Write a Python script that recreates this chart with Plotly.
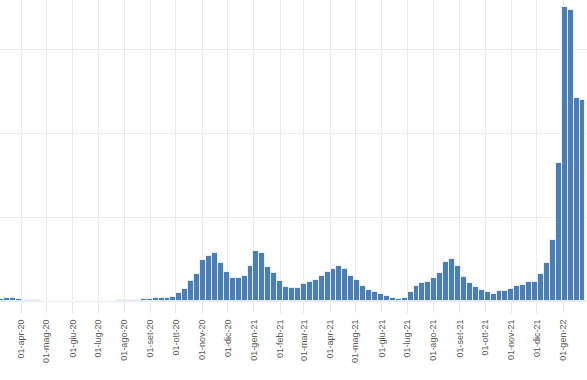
import pandas as pd
import plotly.graph_objects as go

# Weekly bars (week centres, Mondays) from 9 Mar 2020 to 24 Jan 2022
weeks = pd.date_range("2020-03-09", periods=99, freq="7D")

values = [
    1.0, 1.6, 1.6, 1.2, 0.8, 0.6, 0.4, 0.3, 0.25, 0.2,
    0.2, 0.2, 0.2, 0.2, 0.2, 0.2, 0.2, 0.2, 0.25, 0.3,
    0.35, 0.5, 0.6, 0.8, 0.95, 1.2, 1.6, 1.6, 1.7, 2.6,
    4.6, 7.1, 11.9, 16.1, 24.4, 26.8, 28.4, 22.4, 17.3, 13.5,
    13.5, 14.9, 20.8, 29.8, 28.4, 20.4, 16.5, 11.9, 8.2, 7.7,
    7.7, 9.9, 11.1, 12.5, 15.1, 17.1, 19.0, 21.0, 19.0, 15.1,
    12.5, 9.1, 6.5, 5.5, 4.0, 3.2, 1.6, 1.0, 2.0, 5.5,
    9.2, 10.7, 11.6, 13.5, 16.8, 23.4, 25.0, 21.0, 14.1, 10.5,
    8.5, 6.5, 5.4, 4.2, 5.8, 5.8, 7.3, 8.8, 9.5, 11.5,
    11.5, 15.8, 22.4, 36.6, 82.1, 175.0, 173.2, 120.8, 119.9,
]

tick_dates = pd.date_range("2020-04-01", "2022-01-01", freq="MS")
mesi = ["gen", "feb", "mar", "apr", "mag", "giu", "lug", "ago", "set", "ott", "nov", "dic"]
tick_labels = [f"01-{mesi[d.month - 1]}-{str(d.year)[2:]}" for d in tick_dates]

fig = go.Figure(
    go.Bar(
        x=weeks,
        y=values,
        marker=dict(color="#4a7fb5", line=dict(color="rgba(255,255,255,0.75)", width=1)),
        hoverinfo="x+y",
    )
)

fig.update_layout(
    width=587,
    height=380,
    margin=dict(l=0, r=0, t=0, b=79),
    paper_bgcolor="white",
    plot_bgcolor="white",
    bargap=0,
    showlegend=False,
    font=dict(family="Liberation Sans, Arial, sans-serif", size=9, color="#5a5a5a"),
)

fig.update_xaxes(
    type="date",
    range=["2020-03-07 05:00", "2022-01-29 07:00"],
    tickvals=tick_dates,
    ticktext=tick_labels,
    tickangle=-90,
    ticks="outside",
    ticklen=11,
    tickcolor="#e6e6e6",
    ticklabelstandoff=3,
    showgrid=True,
    gridcolor="#ebebeb",
    gridwidth=1,
    showline=False,
    zeroline=False,
)

fig.update_yaxes(
    range=[0, 179.2],
    dtick=50,
    showticklabels=False,
    showgrid=True,
    gridcolor="#ebebeb",
    gridwidth=1,
    zeroline=True,
    zerolinecolor="#ebebeb",
    showline=False,
)

fig.write_html("out.html")
